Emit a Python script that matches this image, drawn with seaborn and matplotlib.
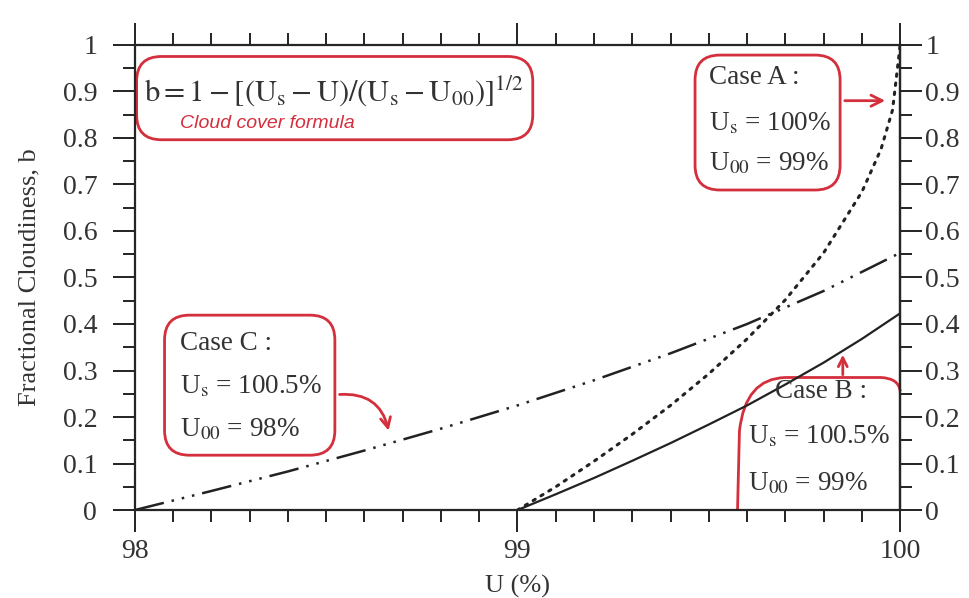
import matplotlib.pyplot as plt
import matplotlib.ticker as mticker
import pandas as pd
import seaborn as sns
from matplotlib.patches import FancyBboxPatch, PathPatch
from matplotlib.path import Path

# values
u_a = [99.0, 99.1, 99.2, 99.3, 99.4, 99.5, 99.6, 99.7, 99.8, 99.9, 99.95, 99.98, 100.0]
b_a = [0.0, 0.05, 0.105, 0.163, 0.225, 0.293, 0.368, 0.452, 0.553, 0.684, 0.776, 0.86, 1.0]

u_b = [99.0, 99.1, 99.2, 99.3, 99.4, 99.5, 99.6, 99.7, 99.8, 99.9, 100.0]
b_b = [0.0, 0.034, 0.069, 0.106, 0.144, 0.184, 0.225, 0.27, 0.317, 0.368, 0.423]

u_c = [98.0, 98.2, 98.4, 98.6, 98.8, 99.0, 99.2, 99.4, 99.6, 99.8, 100.0]
b_c = [0.0, 0.041, 0.083, 0.128, 0.175, 0.225, 0.279, 0.337, 0.4, 0.471, 0.553]

x_major = [98, 99, 100]
y_labels = [0, 0.1, 0.2, 0.3, 0.4, 0.5, 0.6, 0.7, 0.8, 0.9, 1]

RED = "#d42f3c"
INK = "#333333"

sns.set_theme(style="ticks")
plt.rcParams["font.family"] = ["Liberation Serif", "DejaVu Serif"]
plt.rcParams["mathtext.fontset"] = "stix"

fig = plt.figure(figsize=(9.69, 5.98), dpi=100)
ax = fig.add_axes([0.139, 0.147, 0.79, 0.778])

df_a = pd.DataFrame({"U": u_a, "b": b_a})
df_b = pd.DataFrame({"U": u_b, "b": b_b})
df_c = pd.DataFrame({"U": u_c, "b": b_c})

sns.lineplot(data=df_a, x="U", y="b", ax=ax, color="#222222", lw=2.2,
             linestyle=(0, (0.8, 2.2)), dash_capstyle="round")
sns.lineplot(data=df_b, x="U", y="b", ax=ax, color="#222222", lw=1.6)
sns.lineplot(data=df_c, x="U", y="b", ax=ax, color="#222222", lw=1.8,
             linestyle=(0, (12, 3.2, 1, 3.2, 1, 3.2, 1, 3.2)))

ax.set_xlim(98, 100)
ax.set_ylim(0, 1)
ax.xaxis.set_major_locator(mticker.FixedLocator(x_major))
ax.xaxis.set_minor_locator(mticker.MultipleLocator(0.1))
ax.yaxis.set_major_locator(mticker.FixedLocator(y_labels))
ax.yaxis.set_minor_locator(mticker.MultipleLocator(0.05))
ax.yaxis.set_major_formatter(mticker.FuncFormatter(lambda v, p: f"{v:g}"))

for sp in ax.spines.values():
    sp.set_linewidth(1.6)
    sp.set_color("#222222")

ax.tick_params(which="both", direction="out", top=True, width=1.4,
               color="#222222", labelsize=20, labelcolor=INK)
ax.tick_params(which="major", length=16, pad=5)
ax.tick_params(axis="y", which="major", pad=11)
ax.tick_params(which="minor", length=8.5)

ax2 = ax.twinx()
ax2.set_ylim(0, 1)
ax2.yaxis.set_major_locator(mticker.FixedLocator(y_labels))
ax2.yaxis.set_minor_locator(mticker.MultipleLocator(0.05))
ax2.yaxis.set_major_formatter(mticker.FuncFormatter(lambda v, p: f"{v:g}"))
ax2.spines["right"].set_linewidth(1.6)
ax2.tick_params(which="both", direction="out", width=1.4, color="#222222",
                labelsize=20, labelcolor=INK)
ax2.tick_params(which="major", length=16, pad=2)
ax2.tick_params(which="minor", length=8.5)

ax.set_xlabel("U (%)", fontsize=19, color=INK, labelpad=8)
ax.set_ylabel("Fractional Cloudiness, b", fontsize=19, color=INK, labelpad=16)


def red_box(x0, y0, x1, y1):
    ax.add_patch(FancyBboxPatch((x0, y0), x1 - x0, y1 - y0,
                                boxstyle="round,pad=0,rounding_size=0.065",
                                mutation_aspect=0.823, fc="none", ec=RED,
                                lw=2, clip_on=False))


def lines(x, ys, texts):
    for y, t in zip(ys, texts):
        ax.text(x, y, t, fontsize=19.5, color=INK, ha="left", va="center")


# formula box
red_box(98.005, 0.796, 99.04, 0.975)
ax.text(98.024, 0.9,
        r"$\mathrm{b} = 1 - \left[(\mathrm{U_s} - \mathrm{U})/(\mathrm{U_s} - \mathrm{U_{00}})\right]^{1/2}$",
        fontsize=22, color=INK, ha="left", va="center")
ax.text(98.118, 0.83, "Cloud cover formula", fontsize=14, color=RED,
        family=["Liberation Sans", "DejaVu Sans"], style="italic",
        ha="left", va="center")

# case A
red_box(99.464, 0.688, 99.843, 0.978)
lines(99.5, [0.929, 0.83, 0.745],
      ["Case A :", r"U$_\mathrm{s}$ = 100%", r"U$_\mathrm{00}$ = 99%"])
ax.annotate("", xy=(99.968, 0.88), xytext=(99.848, 0.88),
            arrowprops=dict(arrowstyle="->", color=RED, lw=2, mutation_scale=20))

# case C
red_box(98.078, 0.118, 98.523, 0.419)
lines(98.118, [0.359, 0.265, 0.172],
      ["Case C :", r"U$_\mathrm{s}$ = 100.5%", r"U$_\mathrm{00}$ = 98%"])
ax.annotate("", xy=(98.665, 0.165), xytext=(98.528, 0.248),
            arrowprops=dict(arrowstyle="->", color=RED, lw=2, mutation_scale=18,
                            connectionstyle="arc3,rad=-0.45"))

# case B
lines(99.673, [0.254], ["Case B :"])
lines(99.603, [0.157, 0.058], [r"U$_\mathrm{s}$ = 100.5%", r"U$_\mathrm{00}$ = 99%"])
verts = [(99.575, 0.0), (99.58, 0.17), (99.595, 0.283), (99.7, 0.285),
         (99.95, 0.285), (99.997, 0.283), (100.0, 0.255)]
codes = [Path.MOVETO, Path.LINETO, Path.CURVE3, Path.CURVE3,
         Path.LINETO, Path.CURVE3, Path.CURVE3]
ax.add_patch(PathPatch(Path(verts, codes), fc="none", ec=RED, lw=2, clip_on=False))
ax.annotate("", xy=(99.85, 0.34), xytext=(99.85, 0.285),
            arrowprops=dict(arrowstyle="->", color=RED, lw=2, mutation_scale=16))

fig.savefig("out.png", dpi=100)
